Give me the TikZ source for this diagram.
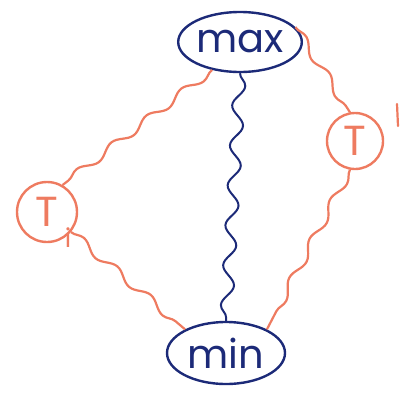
\documentclass[tikz,border=0pt]{standalone}
\usepackage{fontspec}
\setmainfont{Poppins}
\usetikzlibrary{decorations.pathmorphing,shapes.geometric}
\definecolor{navy}{HTML}{1C2A78}
\definecolor{salmon}{HTML}{EE7B60}
\tikzset{
  bluenode/.style={draw=navy,ellipse,line width=2.4pt,text=navy,inner sep=0pt,font=\fontsize{40}{40}\selectfont},
  salnode/.style={draw=salmon,circle,line width=2.4pt,text=salmon,inner sep=0pt,font=\fontsize{42}{42}\selectfont},
  bluewave/.style={draw=navy,line width=2pt,decorate,decoration={snake,segment length=40pt,amplitude=6pt}},
  salwave/.style={draw=salmon,line width=2.2pt,decorate,decoration={snake,segment length=44pt,amplitude=4pt}},
}
\begin{document}
\begin{tikzpicture}[x=1pt,y=-1pt]
\useasboundingbox (0,0) rectangle (409,397);
\node[bluenode,minimum width=108pt,minimum height=60pt] (max) at (240,42) {max};
\node[bluenode,minimum width=118pt,minimum height=62pt] (min) at (226,353) {min};
\node[salnode,minimum size=60pt] (ti) at (47,212) {T};
\node[text=salmon,font=\fontsize{26}{26}\selectfont] (tilab) at (68,238) {i};
\node[salnode,minimum size=56pt] (tp) at (355,141) {T};
\draw[salmon,line width=2.2pt,line cap=round] (397,104) -- (398,126);
\path[bluewave] (max.south) -- (min.north);
\path[salwave] (max.225) -- (ti.60);
\path[salwave] (ti.-40) -- (min.150);
\path[salwave] (max.15) -- (tp.100);
\path[salwave] (tp.-100) -- (min.30);
\end{tikzpicture}
\end{document}
